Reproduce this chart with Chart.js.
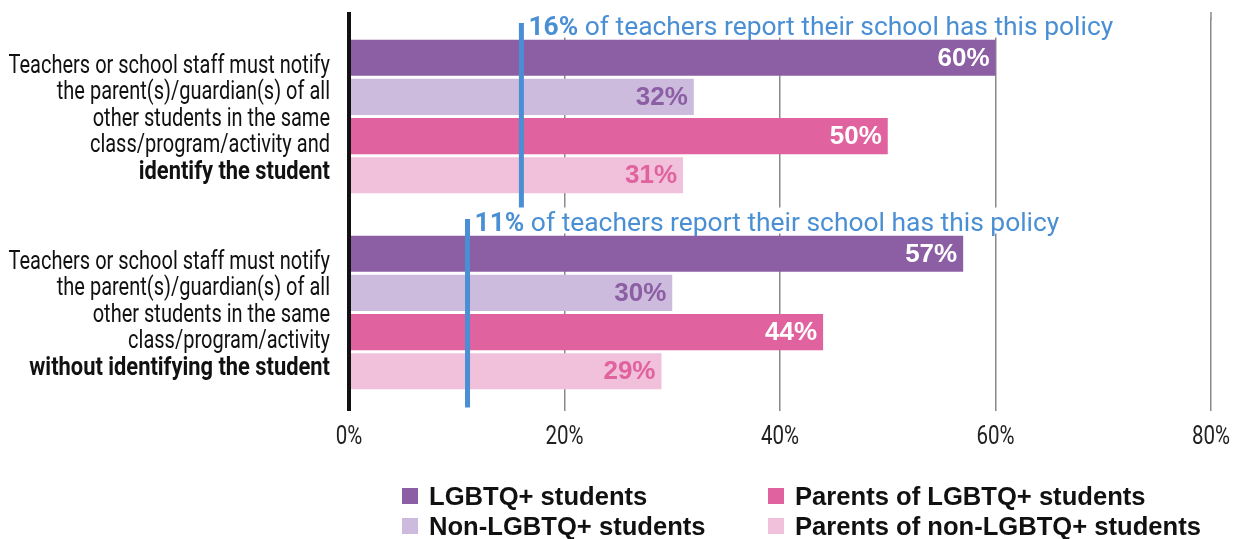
<!DOCTYPE html>
<html>
<head>
<meta charset="utf-8">
<script src="https://cdn.jsdelivr.net/npm/chart.js@4"></script>
<style>
  html, body { margin: 0; padding: 0; background: #fff; }
  #wrap { width: 1238px; height: 539px; }
</style>
</head>
<body>
<div id="wrap"><canvas id="policy-chart"></canvas></div>
<script>
var categories = ["identify", "anonymous"];
var categoryLines = [
  ["Teachers or school staff must notify", "the parent(s)/guardian(s) of all",
   "other students in the same", "class/program/activity and", "identify the student"],
  ["Teachers or school staff must notify", "the parent(s)/guardian(s) of all",
   "other students in the same", "class/program/activity", "without identifying the student"]
];
var seriesNames = ["LGBTQ+ students", "Non-LGBTQ+ students",
                   "Parents of LGBTQ+ students", "Parents of non-LGBTQ+ students"];
var lgbtqStudents = [60, 57];
var nonLgbtqStudents = [32, 30];
var lgbtqParents = [50, 44];
var nonLgbtqParents = [31, 29];
var teacherPolicy = [16, 11];
var xTicks = [0, 20, 40, 60, 80];

var seriesColors = ["#8c5ea4", "#cdbbdd", "#e0629e", "#f1c0da"];
var valueColors = ["#ffffff", "#8c5ea4", "#ffffff", "#e0629e"];
var blue = "#4a8fd4";
var roboto = "Roboto, 'Liberation Sans', sans-serif";
var helv = "'Liberation Sans', Arial, sans-serif";

var seriesValues = [lgbtqStudents, nonLgbtqStudents, lgbtqParents, nonLgbtqParents];

function gridColor(v) { return v === 0 ? "#111" : "#8a8a8a"; }
function gridWidth(v) { return v === 0 ? 4 : 1.5; }

// squeeze text horizontally to get a condensed look
function narrowText(ctx, text, x, y, sx) {
  ctx.save();
  ctx.translate(x, y);
  ctx.scale(sx, 1);
  ctx.fillText(text, 0, 0);
  ctx.restore();
}

// grid lines run a little above the plot area
var gridTop = {
  id: "gridTop",
  beforeDatasetsDraw: function (chart) {
    var ctx = chart.ctx;
    var xs = chart.scales.x;
    var top = chart.chartArea.top;
    ctx.save();
    xs.ticks.forEach(function (t) {
      var x = xs.getPixelForValue(t.value);
      ctx.strokeStyle = gridColor(t.value);
      ctx.lineWidth = gridWidth(t.value);
      ctx.beginPath();
      ctx.moveTo(x, top - 6.5);
      ctx.lineTo(x, top + 1);
      ctx.stroke();
    });
    ctx.restore();
  }
};

// value labels inside the bar ends
var valueLabels = {
  id: "valueLabels",
  afterDatasetsDraw: function (chart) {
    var ctx = chart.ctx;
    ctx.save();
    ctx.font = "bold 26px " + helv;
    ctx.textAlign = "right";
    ctx.textBaseline = "middle";
    chart.data.datasets.forEach(function (ds, i) {
      chart.getDatasetMeta(i).data.forEach(function (bar, j) {
        ctx.fillStyle = valueColors[i];
        ctx.fillText(ds.data[j] + "%", bar.x - 6, bar.y + 1);
      });
    });
    ctx.restore();
  }
};

// blue marker for the share of teachers, with its note
var policyMarkers = {
  id: "policyMarkers",
  afterDatasetsDraw: function (chart) {
    var ctx = chart.ctx;
    var xs = chart.scales.x, ys = chart.scales.y;
    ctx.save();
    teacherPolicy.forEach(function (v, i) {
      var x = xs.getPixelForValue(v);
      var yc = ys.getPixelForValue(i);
      var top = yc - 93.5, bottom = yc + 95;

      var head = v + "%";
      var rest = " of teachers report their school has this policy";
      ctx.textBaseline = "middle";
      ctx.textAlign = "left";
      ctx.font = "bold 26.4px " + roboto;
      var w1 = ctx.measureText(head).width;
      ctx.font = "26.4px " + roboto;
      var w2 = ctx.measureText(rest).width;
      var tx = x + 7, ty = top + 5.5;
      ctx.fillStyle = "#ffffff";
      ctx.fillRect(tx - 2, ty - 17, w1 + w2 + 4, 26);
      ctx.fillStyle = blue;
      ctx.fillRect(x - 2.5, top, 5, bottom - top);
      ctx.font = "bold 26.4px " + roboto;
      ctx.fillText(head, tx, ty);
      ctx.font = "26.4px " + roboto;
      ctx.fillText(rest, tx + w1, ty);
    });
    ctx.restore();
  }
};

// x tick labels, condensed, under the plot
var tickText = {
  id: "tickText",
  afterDraw: function (chart) {
    var ctx = chart.ctx;
    var xs = chart.scales.x;
    var y = chart.chartArea.bottom + 27;
    ctx.save();
    ctx.textAlign = "center";
    ctx.textBaseline = "middle";
    ctx.fillStyle = "#222";
    ctx.font = "25px " + roboto;
    xs.ticks.forEach(function (t) {
      narrowText(ctx, t.value + "%", xs.getPixelForValue(t.value), y, 0.82);
    });
    ctx.restore();
  }
};

// category text to the left, last line bold
var categoryText = {
  id: "categoryText",
  afterDraw: function (chart) {
    var ctx = chart.ctx;
    var ys = chart.scales.y;
    var right = chart.chartArea.left - 19;
    var lh = 26.5;
    ctx.save();
    ctx.textAlign = "right";
    ctx.textBaseline = "middle";
    ctx.fillStyle = "#111";
    categoryLines.forEach(function (lines, i) {
      var yc = ys.getPixelForValue(i) + 3;
      var y0 = yc - lh * (lines.length - 1) / 2;
      lines.forEach(function (t, k) {
        var last = k === lines.length - 1;
        ctx.font = (last ? "bold " : "") + "25px " + roboto;
        narrowText(ctx, t, right, y0 + k * lh, last ? 0.875 : 0.8);
      });
    });
    ctx.restore();
  }
};

// two-column legend under the axis
var legendBlock = {
  id: "legendBlock",
  afterDraw: function (chart) {
    var ctx = chart.ctx;
    var colX = [402, 768];
    var rowY = [496, 526];
    ctx.save();
    ctx.textAlign = "left";
    ctx.textBaseline = "alphabetic";
    ctx.font = "bold 25.6px " + helv;
    seriesNames.forEach(function (name, i) {
      var x = colX[Math.floor(i / 2)], y = rowY[i % 2];
      ctx.fillStyle = seriesColors[i];
      ctx.fillRect(x, y - 8, 16, 16);
      ctx.fillStyle = "#111";
      ctx.fillText(name, x + 27, y + 9);
    });
    ctx.restore();
  }
};

var canvas = document.getElementById("policy-chart");

new Chart(canvas, {
  type: "bar",
  data: {
    labels: categories,
    datasets: seriesNames.map(function (name, i) {
      return {
        label: name,
        data: seriesValues[i],
        backgroundColor: seriesColors[i],
        categoryPercentage: 0.8,
        barPercentage: 0.92
      };
    })
  },
  options: {
    indexAxis: "y",
    responsive: true,
    maintainAspectRatio: false,
    animation: false,
    layout: { padding: { left: 349, right: 27, top: 18.5, bottom: 128.5 } },
    plugins: {
      legend: { display: false },
      tooltip: { enabled: false }
    },
    scales: {
      x: {
        min: 0,
        max: 80,
        afterBuildTicks: function (scale) {
          scale.ticks = xTicks.map(function (v) { return { value: v }; });
        },
        grid: {
          drawTicks: false,
          color: function (c) { return gridColor(c.tick ? c.tick.value : null); },
          lineWidth: function (c) { return gridWidth(c.tick ? c.tick.value : null); }
        },
        border: { display: false },
        ticks: { display: false }
      },
      y: { display: false }
    }
  },
  plugins: [gridTop, valueLabels, policyMarkers, tickText, categoryText, legendBlock]
});
</script>
</body>
</html>
